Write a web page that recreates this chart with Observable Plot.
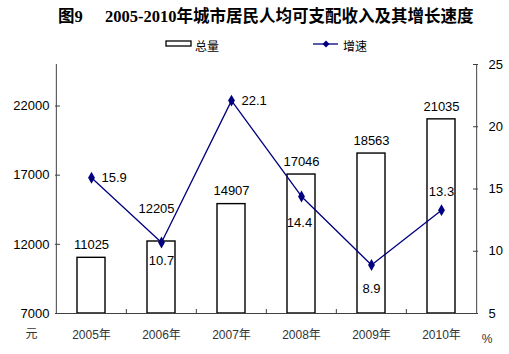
<!DOCTYPE html>
<html><head><meta charset="utf-8">
<script src="https://cdn.jsdelivr.net/npm/d3@7"></script>
<script src="https://cdn.jsdelivr.net/npm/@observablehq/plot@0.6"></script>
<style>
html,body{margin:0;padding:0;background:#fff;}
#wrap{position:relative;width:509px;height:354px;font-family:"Liberation Sans",Arial,"Noto Sans CJK SC",sans-serif;}
#title{position:absolute;left:0;top:3px;width:509px;text-align:left;font-family:"Liberation Serif","Noto Sans CJK SC",serif;font-weight:bold;font-size:16.5px;white-space:pre;color:#000;}
#legend{position:absolute;left:0;top:36px;width:509px;height:18px;font-size:12px;color:#000;}
#chart{position:absolute;left:0;top:0;}
</style></head>
<body>
<div id="wrap">
<div id="chart"></div>
<div id="title"><span style="position:absolute;left:58px;">图9</span><span style="position:absolute;left:105px;">2005-2010年城市居民人均可支配收入及其增长速度</span></div>
<div id="legend">
<svg width="509" height="18" style="position:absolute;left:0;top:0">
<rect x="166" y="5" width="25" height="5" fill="#fff" stroke="#000" stroke-width="1.3"/>
<text x="195" y="12" font-size="12" font-family="Noto Sans CJK SC" dominant-baseline="middle">总量</text>
<line x1="313" y1="8" x2="338" y2="8" stroke="#000080" stroke-width="1.3"/>
<path d="M326,4.5L329.5,8L326,11.5L322.5,8Z" fill="#000080"/>
<text x="343" y="12" font-size="12" font-family="Noto Sans CJK SC" dominant-baseline="middle">增速</text>
</svg>
</div>
</div>
<script>
const years = ["2005年","2006年","2007年","2008年","2009年","2010年"];
const totals = [11025, 12205, 14907, 17046, 18563, 21035];
const growth = [15.9, 10.7, 22.1, 14.4, 8.9, 13.3];
const leftTicks = [7000, 12000, 17000, 22000];
const rightTicks = [5, 10, 15, 20, 25];

const leftDomain = [7000, 25000];
const rightDomain = [5, 25];
const toLeft = d3.scaleLinear().domain(rightDomain).range(leftDomain);

const data = years.map((y, i) => ({year: y, total: totals[i], growth: growth[i], g: toLeft(growth[i]), i}));

const step = (509 - 55 - 32) / years.length;
const fontF = "Liberation Sans, Arial, Noto Sans CJK SC, sans-serif";
const pick = idx => data.filter(d => idx.includes(d.i));
const axisCol = "#404040";

const chart = Plot.plot({
  width: 509, height: 354,
  marginLeft: 55, marginRight: 32, marginTop: 64, marginBottom: 41,
  style: {fontFamily: fontF, fontSize: "13px", background: "transparent"},
  x: {domain: years, paddingInner: 0.6, paddingOuter: 0.3, label: null},
  y: {domain: leftDomain, label: null},
  marks: [
    Plot.barY(data, {x: "year", y1: 7000, y2: "total", fill: "#fff", stroke: "#000", strokeWidth: 1.4}),
    // axis lines
    Plot.ruleY([7000], {stroke: axisCol, strokeWidth: 1}),
    Plot.ruleX([years[0]], {y1: leftDomain[0], y2: leftDomain[1], dx: -step / 2, stroke: axisCol, strokeWidth: 1}),
    Plot.ruleX([years[years.length - 1]], {y1: leftDomain[0], y2: leftDomain[1], dx: step / 2, stroke: axisCol, strokeWidth: 1}),
    // left axis: labels, and inward ticks
    Plot.axisY({ticks: leftTicks, tickSize: 0, tickPadding: 6, tickFormat: d => String(d), color: "#000", fontSize: 13, label: null}),
    Plot.axisY({ticks: leftTicks, tickSize: 5, dx: 5, tickFormat: () => "", stroke: axisCol, label: null}),
    // right axis
    Plot.axisY({anchor: "right", ticks: rightTicks.map(toLeft), tickFormat: v => String(Math.round(toLeft.invert(v))), tickSize: 0, tickPadding: 11, color: "#000", fontSize: 13, label: null}),
    Plot.axisY({anchor: "right", ticks: rightTicks.map(toLeft), tickFormat: () => "", tickSize: 5, dx: -5, stroke: axisCol, label: null}),
    // bottom axis
    Plot.axisX({tickSize: 0, tickPadding: 17, color: "#333", fontSize: 12, label: null}),
    Plot.axisX(years.slice(1), {tickSize: 4, dx: -step / 2, dy: -4, tickFormat: () => "", stroke: axisCol, label: null}),
    Plot.text(pick([0,2,3,4,5]), {x: "year", y: "total", text: d => String(d.total), dy: -13, fontSize: 13, fill: "#000"}),
    Plot.text(pick([1]), {x: "year", y: "total", text: d => String(d.total), dy: -33, dx: -5, fontSize: 13, fill: "#000"}),
    Plot.line(data, {x: "year", y: "g", stroke: "#000080", strokeWidth: 1.3}),
    Plot.dot(data, {x: "year", y: "g", symbol: "diamond", r: 3.6, fill: "#000080", stroke: "none"}),
    Plot.text(pick([0,2]), {x: "year", y: "g", text: d => d.growth.toFixed(1), textAnchor: "start", dx: 10, fontSize: 13, fill: "#000"}),
    Plot.text(pick([1]), {x: "year", y: "g", text: d => d.growth.toFixed(1), dy: 18, fontSize: 13, fill: "#000"}),
    Plot.text(pick([3]), {x: "year", y: "g", text: d => d.growth.toFixed(1), dy: 26, dx: -2, fontSize: 13, fill: "#000"}),
    Plot.text(pick([4]), {x: "year", y: "g", text: d => d.growth.toFixed(1), dy: 24, fontSize: 13, fill: "#000"}),
    Plot.text(pick([5]), {x: "year", y: "g", text: d => d.growth.toFixed(1), dy: -18, fontSize: 13, fill: "#000"}),
    Plot.text(["元"], {frameAnchor: "bottom-left", dx: -30, dy: 24, fontSize: 12, fill: "#333", fontFamily: "Noto Sans CJK SC"}),
    Plot.text(["%"], {frameAnchor: "bottom-right", dx: 15, dy: 29, fontSize: 12, fill: "#333"})
  ]
});
document.getElementById("chart").appendChild(chart);
</script>
</body></html>
